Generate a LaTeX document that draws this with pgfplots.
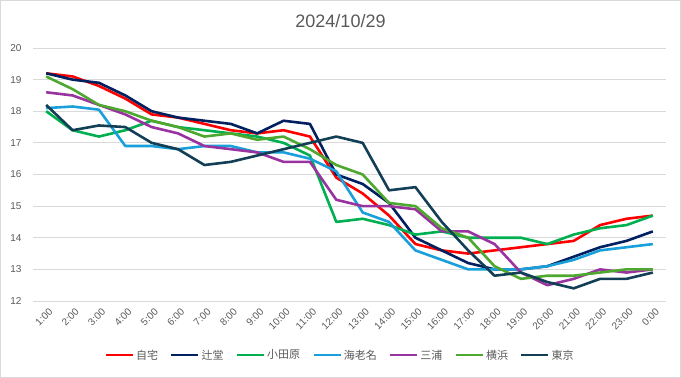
\documentclass[border=0pt]{standalone}
\usepackage{fontspec}
\setmainfont{Liberation Sans}
\newfontfamily\jp{Noto Sans CJK JP}
\usepackage{pgfplots}
\pgfplotsset{compat=1.18}
\definecolor{cA}{HTML}{FF0000}
\definecolor{cB}{HTML}{002060}
\definecolor{cC}{HTML}{00B050}
\definecolor{cD}{HTML}{19A0DA}
\definecolor{cE}{HTML}{9933A0}
\definecolor{cF}{HTML}{4EA72E}
\definecolor{cG}{HTML}{123F55}
\definecolor{gridgray}{HTML}{D9D9D9}
\definecolor{txtgray}{HTML}{595959}
\begin{document}
\begin{tikzpicture}[x=1pt,y=1pt]
\path[use as bounding box] (0,0) rectangle (681,378);
\draw[color=gridgray, line width=0.8pt] (0.5,0.5) rectangle (680.5,377.5);
\node[font=\fontsize{18}{20}\selectfont, text=txtgray] at (340.5,357) {2024/10/29};
\begin{axis}[
  at={(33pt,77pt)}, anchor=south west, scale only axis,
  width=633pt, height=253pt,
  xmin=-0.5, xmax=23.5, ymin=12, ymax=20,
  ytick={12,13,...,20},
  xtick={0,1,...,23},
  xticklabels={1:00,2:00,3:00,4:00,5:00,6:00,7:00,8:00,9:00,10:00,11:00,12:00,13:00,14:00,15:00,16:00,17:00,18:00,19:00,20:00,21:00,22:00,23:00,0:00},
  axis line style={draw=none},
  major tick length=0pt,
  ymajorgrids, grid style={gridgray, line width=0.8pt},
  /pgf/number format/assume math mode=true,
  tick label style={font=\fontsize{10}{12}\selectfont, text=txtgray},
  yticklabel style={xshift=-8pt},
  xticklabel style={rotate=45, anchor=east, xshift=0pt, yshift=-10pt},
  legend columns=7,
  legend style={at={(0.485,-0.214)}, anchor=center, draw=none, fill=none,
    font=\jp\fontsize{11}{13}\selectfont, text=txtgray,
    /tikz/every even column/.append style={column sep=10pt}},
  legend image code/.code={\draw[#1, line width=2.6pt] (0pt,0pt) -- (27pt,0pt);},
  every axis plot/.append style={line width=2.6pt, line join=round, mark=none},
]
\addplot[cA] coordinates {(0,19.2)(1,19.1)(2,18.8)(3,18.4)(4,17.9)(5,17.8)(6,17.6)(7,17.4)(8,17.3)(9,17.4)(10,17.2)(11,15.9)(12,15.4)(13,14.7)(14,13.8)(15,13.6)(16,13.5)(17,13.6)(18,13.7)(19,13.8)(20,13.9)(21,14.4)(22,14.6)(23,14.7)};
\addlegendentry{自宅}
\addplot[cB] coordinates {(0,19.2)(1,19.0)(2,18.9)(3,18.5)(4,18.0)(5,17.8)(6,17.7)(7,17.6)(8,17.3)(9,17.7)(10,17.6)(11,16.0)(12,15.7)(13,15.1)(14,14.0)(15,13.6)(16,13.2)(17,13.0)(18,13.0)(19,13.1)(20,13.4)(21,13.7)(22,13.9)(23,14.2)};
\addlegendentry{辻堂}
\addplot[cC] coordinates {(0,18.0)(1,17.4)(2,17.2)(3,17.4)(4,17.7)(5,17.5)(6,17.4)(7,17.3)(8,17.2)(9,17.0)(10,16.6)(11,14.5)(12,14.6)(13,14.4)(14,14.1)(15,14.2)(16,14.0)(17,14.0)(18,14.0)(19,13.8)(20,14.1)(21,14.3)(22,14.4)(23,14.7)};
\addlegendentry{小田原}
\addplot[cD] coordinates {(0,18.1)(1,18.15)(2,18.05)(3,16.9)(4,16.9)(5,16.8)(6,16.9)(7,16.9)(8,16.7)(9,16.7)(10,16.5)(11,16.1)(12,14.8)(13,14.5)(14,13.6)(15,13.3)(16,13.0)(17,13.0)(18,13.0)(19,13.1)(20,13.3)(21,13.6)(22,13.7)(23,13.8)};
\addlegendentry{海老名}
\addplot[cE] coordinates {(0,18.6)(1,18.5)(2,18.2)(3,17.9)(4,17.5)(5,17.3)(6,16.9)(7,16.8)(8,16.7)(9,16.4)(10,16.4)(11,15.2)(12,15.0)(13,15.0)(14,14.9)(15,14.2)(16,14.2)(17,13.8)(18,12.9)(19,12.5)(20,12.7)(21,13.0)(22,12.9)(23,13.0)};
\addlegendentry{三浦}
\addplot[cF] coordinates {(0,19.1)(1,18.7)(2,18.2)(3,18.0)(4,17.7)(5,17.5)(6,17.2)(7,17.3)(8,17.1)(9,17.2)(10,16.8)(11,16.3)(12,16.0)(13,15.1)(14,15.0)(15,14.3)(16,14.0)(17,13.1)(18,12.7)(19,12.8)(20,12.8)(21,12.9)(22,13.0)(23,13.0)};
\addlegendentry{横浜}
\addplot[cG] coordinates {(0,18.2)(1,17.4)(2,17.55)(3,17.5)(4,17.0)(5,16.8)(6,16.3)(7,16.4)(8,16.6)(9,16.8)(10,17.0)(11,17.2)(12,17.0)(13,15.5)(14,15.6)(15,14.5)(16,13.6)(17,12.8)(18,12.9)(19,12.6)(20,12.4)(21,12.7)(22,12.7)(23,12.9)};
\addlegendentry{東京}
\end{axis}
\end{tikzpicture}
\end{document}
